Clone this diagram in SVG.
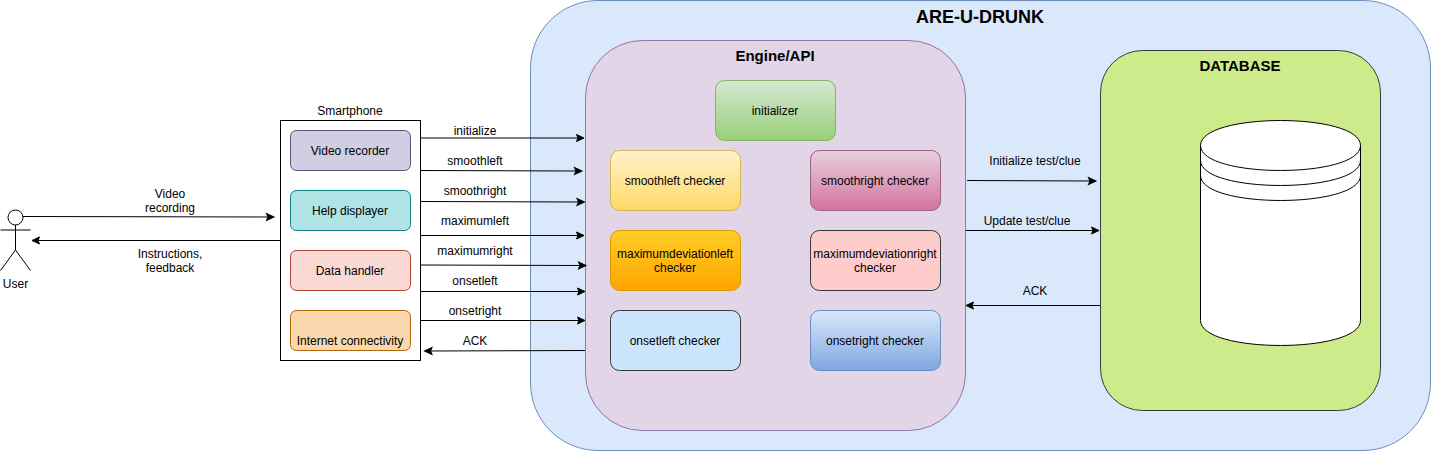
<svg xmlns="http://www.w3.org/2000/svg" width="1431" height="451" viewBox="0 0 1431 451">
<style>
text{font-family:"Liberation Sans",Arial,sans-serif;font-size:12px;fill:#000;text-anchor:middle}
.b{font-weight:bold;font-size:15px}
.t{font-weight:bold;font-size:18px}
.c line{stroke:#000;stroke-width:1;marker-end:url(#a)}
.actor{fill:none;stroke:#000}
</style>
<defs>
<marker id="a" markerUnits="userSpaceOnUse" markerWidth="14" markerHeight="12" viewBox="-6 -6 14 12" refX="0" refY="0" orient="auto" overflow="visible"><path d="M5.5 0L-2 3.5L-.5 0L-2-3.5Z" fill="#000" stroke="#000" stroke-miterlimit="10"/></marker>
<linearGradient id="g1" x1="0" y1="0" x2="0" y2="1"><stop offset="0" stop-color="#d5e8d4"/><stop offset="1" stop-color="#97d077"/></linearGradient>
<linearGradient id="g2" x1="0" y1="0" x2="0" y2="1"><stop offset="0" stop-color="#fff2cc"/><stop offset="1" stop-color="#ffd966"/></linearGradient>
<linearGradient id="g3" x1="0" y1="0" x2="0" y2="1"><stop offset="0" stop-color="#e6d0de"/><stop offset="1" stop-color="#d5739d"/></linearGradient>
<linearGradient id="g4" x1="0" y1="0" x2="0" y2="1"><stop offset="0" stop-color="#ffcd28"/><stop offset="1" stop-color="#ffa500"/></linearGradient>
<linearGradient id="g5" x1="0" y1="0" x2="0" y2="1"><stop offset="0" stop-color="#dae8fc"/><stop offset="1" stop-color="#7ea6e0"/></linearGradient>
</defs>
<g id="are-u-drunk"><rect x="530.5" y="0.5" width="900" height="450" rx="67.5" fill="#dae8fc" stroke="#6c8ebf"/><text class="t" x="980" y="23">ARE-U-DRUNK</text></g>
<g id="engine"><rect x="585.5" y="40.5" width="380" height="390" rx="57" fill="#e1d5e7" stroke="#9673a6"/><text class="b" x="775" y="61">Engine/API</text></g>
<g id="database"><rect x="1100.5" y="50.5" width="280" height="360" rx="42" fill="#cdeb8b" stroke="#36393d"/><text class="b" x="1240" y="71">DATABASE</text></g>
<g id="datastore" fill="#fff" stroke="#000"><path d="M1200.5 145.5C1200.5 112.2 1360.5 112.2 1360.5 145.5V320.5C1360.5 353.8 1200.5 353.8 1200.5 320.5Z"/><path d="M1200.5 145.5C1200.5 178.8 1360.5 178.8 1360.5 145.5M1200.5 160.5C1200.5 193.8 1360.5 193.8 1360.5 160.5M1200.5 175.5C1200.5 208.8 1360.5 208.8 1360.5 175.5" fill="none"/></g>
<g id="user"><circle class="actor" cx="15.5" cy="217.5" r="7.5"/><path class="actor" d="M15.5 225V250M0.5 230H30.5M15.5 250L0.5 270.5M15.5 250L30.5 270.5"/><text x="15.5" y="288">User</text></g>
<g id="smartphone"><rect x="280.5" y="120.5" width="140" height="240" fill="#fff" stroke="#000"/><text x="350" y="115">Smartphone</text></g>
<g id="video-recorder"><rect x="290.5" y="130.5" width="120" height="40" rx="6" fill="#d0cee2" stroke="#56517e"/><text x="350" y="155">Video recorder</text></g>
<g id="help-displayer"><rect x="290.5" y="190.5" width="120" height="40" rx="6" fill="#b0e3e6" stroke="#0e8088"/><text x="350" y="215">Help displayer</text></g>
<g id="data-handler"><rect x="290.5" y="250.5" width="120" height="40" rx="6" fill="#fad9d5" stroke="#ae4132"/><text x="350" y="275">Data handler</text></g>
<g id="internet"><rect x="290.5" y="310.5" width="120" height="40" rx="6" fill="#fad7ac" stroke="#b46504"/><text x="350" y="345">Internet connectivity</text></g>
<g id="initializer"><rect x="715.5" y="80.5" width="120" height="60" rx="9" fill="url(#g1)" stroke="#82b366"/><text x="775" y="115">initializer</text></g>
<g id="smoothleft"><rect x="610.5" y="150.5" width="130" height="60" rx="9" fill="url(#g2)" stroke="#d6b656"/><text x="675" y="185">smoothleft checker</text></g>
<g id="smoothright"><rect x="810.5" y="150.5" width="130" height="60" rx="9" fill="url(#g3)" stroke="#996185"/><text x="875" y="185">smoothright checker</text></g>
<g id="maxleft"><rect x="610.5" y="230.5" width="130" height="60" rx="9" fill="url(#g4)" stroke="#d79b00"/><text x="675" y="258">maximumdeviationleft</text><text x="675" y="272">checker</text></g>
<g id="maxright"><rect x="810.5" y="230.5" width="130" height="60" rx="9" fill="#ffcccc" stroke="#36393d"/><text x="875" y="258">maximumdeviationright</text><text x="875" y="272">checker</text></g>
<g id="onsetleft"><rect x="610.5" y="310.5" width="130" height="60" rx="9" fill="#cce5ff" stroke="#36393d"/><text x="675" y="345">onsetleft checker</text></g>
<g id="onsetright"><rect x="810.5" y="310.5" width="130" height="60" rx="9" fill="url(#g5)" stroke="#6c8ebf"/><text x="875" y="345">onsetright checker</text></g>
<g id="connectors" class="c">
<line x1="23" y1="216.5" x2="268.5" y2="217"/>
<line x1="280" y1="240.5" x2="37.5" y2="240.5"/>
<line x1="420.5" y1="138" x2="578.5" y2="138"/>
<line x1="420.5" y1="170.5" x2="576.5" y2="171"/>
<line x1="420.5" y1="201.5" x2="579" y2="202"/>
<line x1="420.5" y1="235.5" x2="578.5" y2="235.5"/>
<line x1="420.5" y1="265" x2="580.5" y2="265.5"/>
<line x1="420.5" y1="291.5" x2="579.5" y2="291.5"/>
<line x1="420.5" y1="320.5" x2="579.5" y2="320.5"/>
<line x1="585" y1="350.5" x2="430" y2="351"/>
<line x1="967" y1="180.5" x2="1090.5" y2="181"/>
<line x1="966" y1="230.5" x2="1093.5" y2="230.5"/>
<line x1="1100" y1="305.5" x2="971.5" y2="305.5"/>
</g>
<g id="labels">
<text x="170" y="198">Video</text><text x="170" y="212">recording</text>
<text x="170" y="258">Instructions,</text><text x="170" y="272">feedback</text>
<text x="475" y="135">initialize</text>
<text x="475" y="165">smoothleft</text>
<text x="475" y="195">smoothright</text>
<text x="475" y="225">maximumleft</text>
<text x="475" y="255">maximumright</text>
<text x="475" y="285">onsetleft</text>
<text x="475" y="315">onsetright</text>
<text x="475" y="345">ACK</text>
<text x="1035" y="165">Initialize test/clue</text>
<text x="1027" y="225">Update test/clue</text>
<text x="1035" y="295">ACK</text>
</g>
</svg>
